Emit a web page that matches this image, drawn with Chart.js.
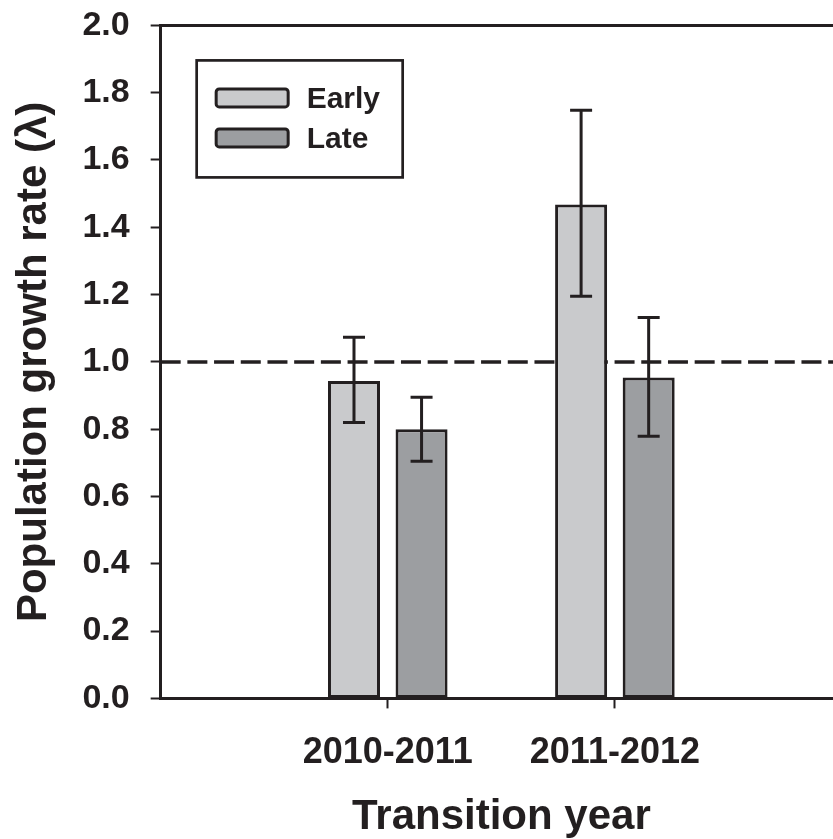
<!DOCTYPE html>
<html lang="en">
<head>
  <meta charset="UTF-8">
  <title>Population growth rate</title>
  <script src="https://cdn.jsdelivr.net/npm/chart.js"></script>
  <style>
    html, body {
      margin: 0;
      padding: 0;
      background: #fff;
      overflow: hidden;
    }
    /* the plot frame runs past the right edge of the window, as in the figure */
    #chart {
      position: absolute;
      left: 0;
      top: -16.4px;
    }
  </style>
</head>
<body>
  <canvas id="chart" width="865" height="861"></canvas>

  <script>
    // Data
    const categories = ['', '2010-2011', '2011-2012', ''];
    const seriesNames = ['Early', 'Late'];
    const earlyMean = [null, 0.943, 1.468, null];
    const earlyLow = [null, 0.820, 1.195, null];
    const earlyHigh = [null, 1.073, 1.748, null];
    const lateMean = [null, 0.800, 0.954, null];
    const lateLow = [null, 0.705, 0.779, null];
    const lateHigh = [null, 0.895, 1.132, null];
    const referenceLine = 1.0;

    const ink = '#231f20';
    const fontFamily = '"Liberation Sans", Arial, sans-serif';

    // dashed line at lambda = 1, drawn under the bars
    const refLinePlugin = {
      id: 'refLine',
      beforeDatasetsDraw(chart) {
        const ctx = chart.ctx;
        const area = chart.chartArea;
        const y = chart.scales.y.getPixelForValue(referenceLine);
        ctx.save();
        ctx.strokeStyle = ink;
        ctx.lineWidth = 3.5;
        ctx.setLineDash([20, 6.7]);
        ctx.beginPath();
        ctx.moveTo(area.left, y);
        ctx.lineTo(area.right, y);
        ctx.stroke();
        ctx.restore();
      }
    };

    // error bars, frame lines and the boxed legend
    const extrasPlugin = {
      id: 'extras',
      afterDatasetsDraw(chart) {
        const ctx = chart.ctx;
        const yScale = chart.scales.y;
        ctx.save();
        ctx.strokeStyle = ink;
        ctx.lineWidth = 3;
        chart.data.datasets.forEach((ds, i) => {
          const meta = chart.getDatasetMeta(i);
          meta.data.forEach((bar, j) => {
            if (ds.low[j] == null) return;
            const x = bar.x;
            const yLo = yScale.getPixelForValue(ds.low[j]);
            const yHi = yScale.getPixelForValue(ds.high[j]);
            ctx.beginPath();
            ctx.moveTo(x, yLo);
            ctx.lineTo(x, yHi);
            ctx.moveTo(x - 11, yLo);
            ctx.lineTo(x + 11, yLo);
            ctx.moveTo(x - 11, yHi);
            ctx.lineTo(x + 11, yHi);
            ctx.stroke();
          });
        });
        ctx.restore();
      },
      afterDraw(chart) {
        const ctx = chart.ctx;
        const area = chart.chartArea;
        ctx.save();
        ctx.strokeStyle = ink;
        ctx.lineWidth = 3;
        ctx.beginPath();
        ctx.moveTo(area.left - 1.5, area.top);
        ctx.lineTo(area.right, area.top);
        ctx.lineTo(area.right, area.bottom);
        ctx.stroke();

        // legend box
        const bx = area.left + 36;
        const by = area.top + 35;
        ctx.lineWidth = 2.7;
        ctx.strokeRect(bx, by, 206, 117);
        ctx.font = 'bold 30px ' + fontFamily;
        ctx.textBaseline = 'alphabetic';
        chart.data.datasets.forEach((ds, i) => {
          const sy = by + 27 + i * 40;
          ctx.fillStyle = ds.backgroundColor;
          ctx.lineWidth = 3;
          ctx.beginPath();
          ctx.roundRect(bx + 19.5, sy + 1.5, 72, 18, 3);
          ctx.fill();
          ctx.stroke();
          ctx.fillStyle = ink;
          ctx.fillText(ds.label, bx + 110, sy + 21);
        });
        ctx.restore();
      }
    };

    const ctx = document.getElementById('chart').getContext('2d');
    new Chart(ctx, {
      type: 'bar',
      data: {
        labels: categories,
        datasets: [
          {
            label: seriesNames[0],
            data: earlyMean,
            low: earlyLow,
            high: earlyHigh,
            backgroundColor: '#c9cacc',
            borderColor: ink,
            borderWidth: 3,
            borderSkipped: false
          },
          {
            label: seriesNames[1],
            data: lateMean,
            low: lateLow,
            high: lateHigh,
            backgroundColor: '#9c9ea1',
            borderColor: ink,
            borderWidth: 3,
            borderSkipped: false
          }
        ]
      },
      options: {
        responsive: false,
        animation: false,
        categoryPercentage: 0.595,
        barPercentage: 0.77,
        layout: { padding: 0 },
        plugins: {
          legend: { display: false },
          tooltip: { enabled: false }
        },
        scales: {
          x: {
            offset: false,
            grid: {
              offset: false,
              drawOnChartArea: false,
              drawTicks: true,
              tickLength: 10,
              tickWidth: 2,
              tickColor: c => (c.index === 1 || c.index === 2) ? ink : 'rgba(0,0,0,0)'
            },
            border: { display: true, color: ink, width: 3 },
            ticks: {
              color: ink,
              padding: 23,
              maxRotation: 0,
              autoSkip: false,
              font: { family: fontFamily, size: 36, weight: 'bold' }
            },
            title: {
              display: true,
              text: 'Transition year',
              color: ink,
              padding: { top: -5, bottom: 2 },
              font: { family: fontFamily, size: 42, weight: 'bold' }
            }
          },
          y: {
            min: 0,
            max: 2,
            grid: {
              drawOnChartArea: false,
              drawTicks: true,
              tickLength: 10,
              tickWidth: 2,
              tickColor: ink
            },
            border: { display: true, color: ink, width: 3 },
            ticks: {
              stepSize: 0.2,
              color: ink,
              padding: 21,
              callback: v => v.toFixed(1),
              font: { family: fontFamily, size: 34, weight: 'bold' }
            },
            title: {
              display: true,
              text: 'Population growth rate (λ)',
              color: ink,
              padding: { top: 9, bottom: 2 },
              font: { family: fontFamily, size: 42, weight: 'bold' }
            }
          }
        }
      },
      plugins: [refLinePlugin, extrasPlugin]
    });
  </script>
</body>
</html>
